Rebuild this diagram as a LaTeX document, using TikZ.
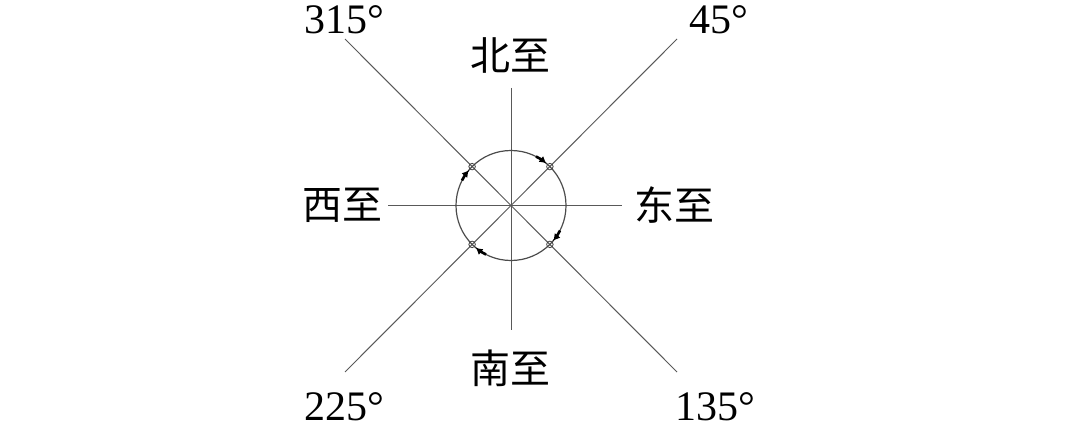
\documentclass[tikz,border=0pt]{standalone}
\usepackage{fontspec}
\setmainfont{Liberation Serif}
\newfontfamily\cjk{Noto Sans CJK SC}
\usetikzlibrary{arrows.meta,calc}
\tikzset{
  axisline/.style={draw=black!65, line width=1pt},
  ring/.style={draw=black!70, line width=1.2pt},
  marker/.style={circle, draw=black!75, line width=0.8pt, minimum size=6.5pt, inner sep=0pt},
  deglabel/.style={inner sep=0pt, font=\fontsize{42}{42}\selectfont},
  dirlabel/.style={inner sep=0pt, font=\cjk\fontsize{40}{40}\selectfont},
  turn/.style={draw=black, line width=2.6pt, -{Triangle[length=6pt,width=6.5pt]}}
}
\begin{document}
\begin{tikzpicture}[x=1pt,y=1pt]
\useasboundingbox (0,0) rectangle (1080,432);
\coordinate (C) at (511,226.5);
% axis end points
\coordinate (N) at (511,344);
\coordinate (S) at (511,102);
\coordinate (W) at (388,226.5);
\coordinate (E) at (622,226.5);
\coordinate (NE) at (677,393);
\coordinate (SW) at (345,60);
\coordinate (NW) at (345,393);
\coordinate (SE) at (677,60);
\draw[axisline] (N) -- (S);
\draw[axisline] (W) -- (E);
\draw[axisline] (NE) -- (SW);
\draw[axisline] (NW) -- (SE);
\draw[ring] (C) circle[radius=55];
% markers
\node[marker] (m45) at ($(C)+(45:55)$) {};
\node[marker] (m135) at ($(C)+(-45:55)$) {};
\node[marker] (m225) at ($(C)+(-135:55)$) {};
\node[marker] (m315) at ($(C)+(135:55)$) {};
% clockwise arrows
\draw[turn] ($(C)+(63:55)$) arc[start angle=63,end angle=51,radius=55];
\draw[turn] ($(C)+(-27:55)$) arc[start angle=-27,end angle=-39,radius=55];
\draw[turn] ($(C)+(-117:55)$) arc[start angle=-117,end angle=-129,radius=55];
\draw[turn] ($(C)+(153:55)$) arc[start angle=153,end angle=141,radius=55];
% labels
\node[dirlabel] (bei) at (510,377) {北至};
\node[dirlabel] (nan) at (510,64) {南至};
\node[dirlabel] (xi) at (342,227) {西至};
\node[dirlabel] (dong) at (674,227) {东至};
\node[deglabel] (d315) at (344,412) {315°};
\node[deglabel] (d45) at (719,412) {45°};
\node[deglabel] (d225) at (344,25) {225°};
\node[deglabel] (d135) at (715,25) {135°};
\end{tikzpicture}
\end{document}
